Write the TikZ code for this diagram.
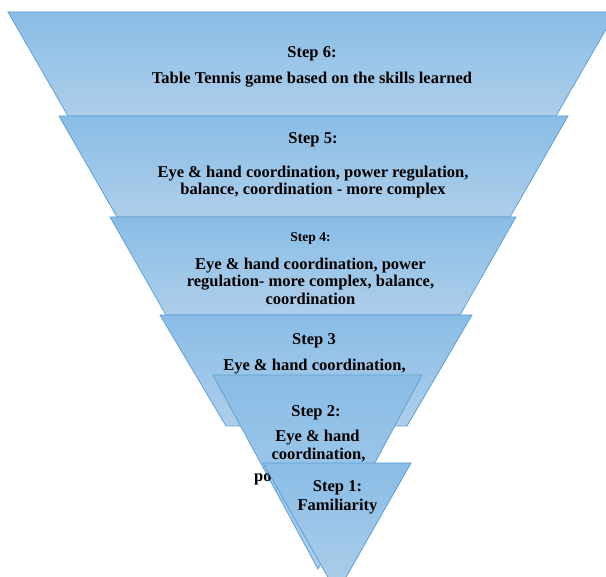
\documentclass[tikz,border=0pt]{standalone}
\usepackage{fontspec}
\setmainfont{Liberation Serif}
\definecolor{edgeblue}{RGB}{95,160,215}
\definecolor{topblue}{RGB}{137,189,230}
\definecolor{botblue}{RGB}{174,206,234}
\tikzset{
  stepshape/.style={draw=edgeblue, line width=0.8pt, top color=topblue, bottom color=botblue, line join=miter},
  steptext/.style={anchor=base, inner sep=0pt, text=black, font=\fontsize{16.5}{17.5}\selectfont\bfseries},
  smallhead/.style={steptext, font=\fontsize{13.5}{15}\selectfont\bfseries}
}
\begin{document}
\begin{tikzpicture}[x=1pt, y=-1pt]
\useasboundingbox (0,0) rectangle (606,577);
\clip (0,0) rectangle (606,577);
% Step 6
\path[stepshape] (8,12) -- (616,12) -- (556,116) -- (68,116) -- cycle;
\node[steptext] (s6a) at (312,57.3) {Step 6:};
\node[steptext] (s6b) at (312,84) {Table Tennis game based on the skills learned};
% Step 5
\path[stepshape] (59,116) -- (568,116) -- (510,217) -- (117,217) -- cycle;
\node[steptext] (s5a) at (313,143.3) {Step 5:};
\node[steptext] (s5b) at (313,177.7) {Eye \& hand coordination, power regulation,};
\node[steptext] (s5c) at (313,195) {balance, coordination - more complex};
% Step 4
\path[stepshape] (110,217) -- (516,217) -- (460,315) -- (166,315) -- cycle;
\node[smallhead] (s4a) at (310.5,241.7) {Step 4:};
\node[steptext] (s4b) at (310.5,269.3) {Eye \& hand coordination, power};
\node[steptext] (s4c) at (310.5,287) {regulation- more complex, balance,};
\node[steptext] (s4d) at (310.5,304.3) {coordination};
% Step 3
\path[stepshape] (160,315) -- (472,315) -- (407,426) -- (226,426) -- cycle;
\node[steptext] (s3a) at (314,345) {Step 3};
\node[steptext] (s3b) at (314.5,371) {Eye \& hand coordination,};
% Step 2
\path[stepshape] (213,375) -- (422,375) -- (318,569) -- cycle;
\node[steptext] (s2a) at (316,416.7) {Step 2:};
\node[steptext] (s2b) at (317.5,441.7) {Eye \& hand};
\node[steptext] (s2c) at (318.5,460) {coordination,};
\node[steptext, anchor=base west] (s2d) at (254,481.7) {po};
% Step 1
\path[stepshape] (263,463) -- (411,463) -- (337,593) -- cycle;
\node[steptext] (s1a) at (337.5,491.7) {Step 1:};
\node[steptext] (s1b) at (337.5,510.7) {Familiarity};
\end{tikzpicture}
\end{document}
